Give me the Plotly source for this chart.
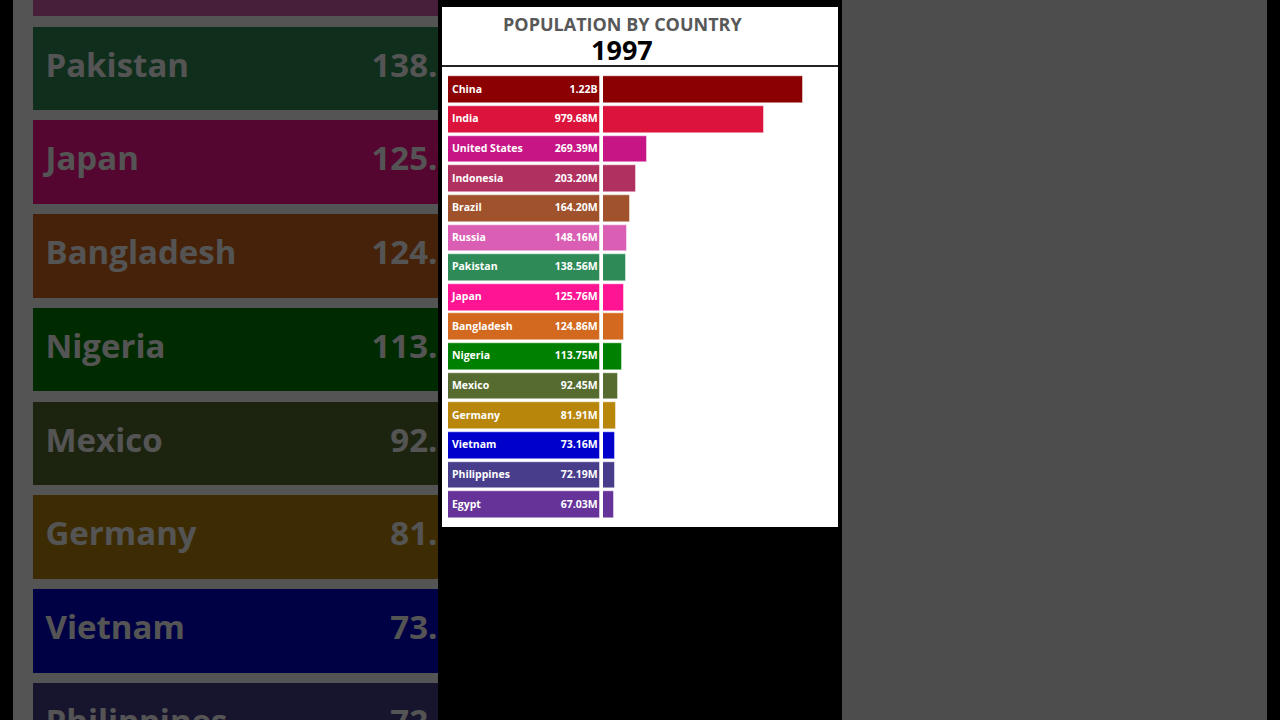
import plotly.graph_objects as go

W, H = 1280, 720

countries = ["China", "India", "United States", "Indonesia", "Brazil", "Russia",
             "Pakistan", "Japan", "Bangladesh", "Nigeria", "Mexico", "Germany",
             "Vietnam", "Philippines", "Egypt"]
population_m = [1220.0, 979.68, 269.39, 203.20, 164.20, 148.16, 138.56, 125.76,
                124.86, 113.75, 92.45, 81.91, 73.16, 72.19, 67.03]
colors = ["#8b0000", "#dc143c", "#c71585", "#b03060", "#a0522d", "#da5fb4",
          "#2e8b57", "#ff1493", "#d2691e", "#008000", "#556b2f", "#b8860b",
          "#0000cd", "#483d8b", "#663399"]
title_text = "POPULATION BY COUNTRY"
year_text = "1997"


def fmt(v):
    return f"{v/1000:.2f}B" if v >= 1000 else f"{v:.2f}M"


value_labels = [fmt(v) for v in population_m]
FONT = "Open Sans"

def px(x):
    return x / W

def py(y):
    return 1 - y / H

fig = go.Figure()

# ---------- main chart ----------
n = len(countries)
fig.add_trace(go.Bar(
    y=countries, x=[1] * n, orientation="h", width=0.9,
    marker=dict(color=colors, line=dict(color="rgba(255,255,255,0.45)", width=1)),
    xaxis="x", yaxis="y", hoverinfo="skip", showlegend=False))
fig.add_trace(go.Scatter(
    y=countries, x=[0.026] * n, mode="text", text=countries,
    textposition="middle right",
    textfont=dict(family=FONT, size=10.5, color="white", weight=700),
    xaxis="x", yaxis="y", hoverinfo="skip", showlegend=False, cliponaxis=False))
fig.add_trace(go.Scatter(
    y=countries, x=[0.984] * n, mode="text", text=value_labels,
    textposition="middle left",
    textfont=dict(family=FONT, size=10.5, color="white", weight=700),
    xaxis="x", yaxis="y", hoverinfo="skip", showlegend=False, cliponaxis=False))
fig.add_trace(go.Bar(
    y=countries, x=population_m, orientation="h", width=0.9,
    marker=dict(color=colors, line=dict(color="rgba(255,255,255,0.45)", width=1)),
    xaxis="x2", yaxis="y", hoverinfo="skip", showlegend=False))

# ---------- zoomed, dimmed copy on the left ----------
fig.add_trace(go.Bar(
    y=countries, x=[1] * n, orientation="h", width=0.89,
    marker=dict(color=colors, line=dict(width=0)),
    xaxis="x3", yaxis="y3", hoverinfo="skip", showlegend=False))
fig.add_trace(go.Scatter(
    y=countries, x=[0.026] * n, mode="text", text=countries,
    textposition="middle right",
    textfont=dict(family=FONT, size=33, color="white", weight=700),
    xaxis="x3", yaxis="y3", hoverinfo="skip", showlegend=False, cliponaxis=True))
fig.add_trace(go.Scatter(
    y=countries, x=[0.984] * n, mode="text", text=value_labels,
    textposition="middle left",
    textfont=dict(family=FONT, size=33, color="white", weight=700),
    xaxis="x3", yaxis="y3", hoverinfo="skip", showlegend=False, cliponaxis=True))

hidden = dict(visible=False, showgrid=False, zeroline=False, fixedrange=True)

fig.update_layout(
    width=W, height=H, margin=dict(l=0, r=0, t=0, b=0),
    paper_bgcolor="black", plot_bgcolor="rgba(0,0,0,0)",
    bargap=0,
    xaxis=dict(domain=[px(448), px(600)], range=[0, 1], anchor="y", **hidden),
    xaxis2=dict(domain=[px(603), px(838)], range=[0, 235 * 6.09], anchor="y", **hidden),
    yaxis=dict(domain=[py(519.7), py(75.3)], range=[14.5, -0.5], type="category",
               anchor="x", **hidden),
    xaxis3=dict(domain=[px(13), px(438)], range=[-0.0415, 0.842], anchor="y3", **hidden),
    yaxis3=dict(domain=[0, 1], range=[12.949, 5.2717], type="category",
                anchor="x3", **hidden),
    shapes=[
        # right gray panel
        dict(type="rect", xref="paper", yref="paper", x0=px(842), x1=px(1267),
             y0=0, y1=1, fillcolor="#4d4d4d", line=dict(width=0), layer="below"),
        # left zoomed chart background (white, dimmed by overlay)
        dict(type="rect", xref="paper", yref="paper", x0=px(13), x1=px(438),
             y0=0, y1=1, fillcolor="white", line=dict(width=0), layer="below"),
        # white chart panel
        dict(type="rect", xref="paper", yref="paper", x0=px(442), x1=px(838),
             y0=py(527), y1=py(7), fillcolor="white", line=dict(width=0), layer="below"),
        # header separator
        dict(type="line", xref="paper", yref="paper", x0=px(442), x1=px(838),
             y0=py(66), y1=py(66), line=dict(color="#222222", width=2), layer="below"),
        # dark overlay on the left copy
        dict(type="rect", xref="paper", yref="paper", x0=px(13), x1=px(438),
             y0=0, y1=1, fillcolor="black", opacity=0.67, line=dict(width=0),
             layer="above"),
    ],
    annotations=[
        dict(text=title_text, xref="paper", yref="paper", x=px(622), y=py(24),
             xanchor="center", yanchor="middle", showarrow=False,
             font=dict(family=FONT, size=18, color="#585858", weight=700)),
        dict(text=year_text, xref="paper", yref="paper", x=px(622), y=py(49.5),
             xanchor="center", yanchor="middle", showarrow=False,
             font=dict(family=FONT, size=27, color="black", weight=700)),
    ],
)

fig.write_html(
    "out.html",
    config={"displayModeBar": False},
    post_script="document.body.style.margin='0';document.body.style.overflow='hidden';"
                "document.body.style.background='black';",
)
